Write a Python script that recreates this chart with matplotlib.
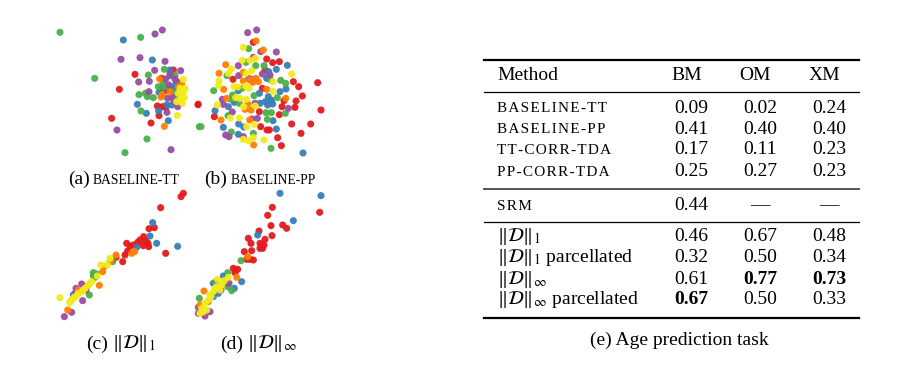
import numpy as np
import matplotlib
matplotlib.use("Agg")
import matplotlib.pyplot as plt

plt.rcParams["font.family"] = ["Liberation Serif", "DejaVu Serif"]
plt.rcParams["mathtext.fontset"] = "stix"

# embedding points (arbitrary units, y grows downward)
a_red = [(285, 163), (400, 150), (238, 208), (352, 258), (377, 262), (357, 287), (474, 254), (215, 295),
         (333, 309), (365, 175), (377, 213), (367, 260), (410, 185)]
a_blue = [(250, 60), (337, 120), (390, 150), (292, 253), (319, 280), (356, 273), (385, 302), (390, 167),
          (408, 190), (365, 205), (393, 202), (380, 255), (395, 255), (357, 217), (403, 205)]
a_green = [(60, 37), (302, 52), (164, 175), (325, 165), (373, 148), (405, 165), (297, 224), (316, 220),
           (322, 230), (303, 273), (478, 320), (321, 357), (255, 398), (370, 188), (355, 200), (415, 230),
           (340, 233), (375, 200), (400, 218)]
a_purple = [(345, 42), (367, 30), (243, 118), (300, 113), (375, 124), (344, 151), (390, 160), (422, 152),
            (296, 186), (328, 184), (381, 277), (231, 330), (393, 389), (377, 177), (405, 177), (383, 235),
            (397, 233), (403, 245), (413, 260), (327, 215), (387, 195)]
a_orange = [(373, 319), (359, 177), (415, 200), (390, 215), (363, 231), (367, 223), (425, 193)]
a_yellow = [(430, 178), (412, 286), (420, 205), (430, 215), (423, 225), (433, 233), (420, 240), (427, 250),
            (415, 220), (435, 205), (425, 240), (410, 245)]

b_red = [(190, 67), (230, 117), (248, 128), (268, 125), (225, 150), (129, 178), (25, 253), (217, 205),
         (310, 185), (326, 200), (383, 188), (282, 242), (318, 243), (337, 228), (276, 260), (315, 262),
         (393, 270), (73, 290), (208, 275), (268, 284), (305, 312), (362, 312), (212, 320), (231, 330),
         (238, 330), (263, 353), (333, 340), (274, 377)]
b_blue = [(292, 136), (236, 155), (259, 148), (230, 175), (145, 212), (270, 215), (288, 207), (208, 220),
          (235, 230), (244, 240), (115, 260), (133, 247), (210, 250), (226, 245), (233, 255), (248, 252),
          (75, 272), (249, 302), (100, 322), (146, 312), (161, 321), (259, 327), (145, 343), (339, 399)]
b_green = [(176, 86), (168, 127), (197, 137), (222, 137), (111, 167), (242, 180), (71, 212), (156, 205),
           (272, 181), (287, 190), (128, 225), (123, 238), (192, 227), (262, 233), (148, 250), (114, 287),
           (228, 278), (244, 278), (286, 280), (232, 298), (33, 320), (124, 336), (190, 340), (243, 385)]
b_purple = [(173, 38), (200, 30), (212, 95), (259, 96), (190, 112), (145, 137), (217, 162), (146, 167),
            (177, 175), (191, 178), (240, 165), (97, 238), (100, 253), (195, 250), (295, 265), (127, 276),
            (186, 297), (202, 295), (107, 345), (117, 350), (160, 350)]
b_orange = [(198, 63), (220, 90), (107, 134), (160, 157), (87, 160), (160, 183), (180, 180), (205, 185),
            (198, 175), (101, 208), (188, 187), (230, 208), (287, 235), (110, 235), (173, 252), (93, 300),
            (165, 268), (183, 270), (179, 300), (191, 375)]
b_yellow = [(160, 82), (157, 121), (180, 121), (196, 115), (124, 147), (168, 160), (185, 152), (115, 160),
            (305, 162), (249, 185), (87, 183), (86, 196), (132, 200), (143, 201), (166, 198), (177, 205),
            (249, 214), (137, 233), (150, 235), (169, 238), (82, 255), (161, 260), (196, 258), (121, 294),
            (148, 294), (170, 320), (193, 313), (160, 358), (175, 362), (190, 353), (222, 360)]

c_red = [(430, 40), (423, 50), (362, 83), (327, 146), (343, 143), (311, 170), (318, 183), (324, 190),
         (293, 187), (260, 190), (270, 198), (310, 197), (326, 200), (377, 220), (263, 213), (255, 225),
         (248, 245), (228, 232), (280, 195), (300, 180)]
c_blue = [(338, 128), (330, 168), (350, 190), (413, 199), (290, 202), (100, 345)]
c_green = [(218, 245), (160, 278), (170, 282), (160, 288), (165, 292), (148, 345)]
c_purple = [(125, 312), (108, 325), (128, 362), (95, 397), (73, 410), (138, 330), (105, 340)]
c_orange = [(284, 215), (275, 220), (228, 225), (210, 245), (178, 316), (83, 390), (192, 260), (188, 275),
            (140, 320), (115, 330)]
c_yellow = [(60, 353), (90, 368), (210, 235), (202, 255), (182, 255), (172, 288), (155, 305), (150, 310),
            (145, 315), (135, 325), (125, 335), (115, 340), (105, 350), (95, 360), (90, 365), (130, 330),
            (110, 348), (100, 355)]

d_red = [(419, 97), (277, 82), (263, 106), (273, 137), (308, 135), (320, 145), (276, 167), (237, 153),
         (255, 178), (205, 175), (213, 190), (240, 190), (252, 195), (240, 205), (248, 205), (215, 212),
         (193, 215), (210, 238), (220, 240), (200, 238), (160, 265), (173, 268), (165, 278)]
d_blue = [(300, 40), (423, 47), (340, 122), (233, 165), (185, 305), (163, 325), (130, 288), (100, 310),
          (115, 340), (100, 350)]
d_green = [(183, 242), (143, 278), (137, 310), (108, 305), (58, 355), (155, 332), (143, 320)]
d_purple = [(147, 310), (123, 330), (55, 382), (55, 400), (75, 408), (90, 395)]
d_orange = [(203, 230), (170, 292), (72, 333), (60, 375), (85, 365)]
d_yellow = [(145, 292), (133, 302), (125, 315), (113, 298), (110, 320), (120, 330), (100, 335), (93, 350),
            (85, 360), (75, 370), (65, 385), (60, 400), (80, 390), (105, 325), (90, 345), (70, 395)]

# table data
methods = ["BASELINE-TT", "BASELINE-PP", "TT-CORR-TDA", "PP-CORR-TDA", "SRM",
           r"$\|\mathcal{D}\|_1$", r"$\|\mathcal{D}\|_1$ parcellated",
           r"$\|\mathcal{D}\|_\infty$", r"$\|\mathcal{D}\|_\infty$ parcellated"]
smallcaps = [True, True, True, True, True, False, False, False, False]
bm = ["0.09", "0.41", "0.17", "0.25", "0.44", "0.46", "0.32", "0.61", "0.67"]
om = ["0.02", "0.40", "0.11", "0.27", "\u2014", "0.67", "0.50", "0.77", "0.50"]
xm = ["0.24", "0.40", "0.23", "0.23", "\u2014", "0.48", "0.34", "0.73", "0.33"]
bold = [(8, 0), (7, 1), (7, 2)]
columns = ["BM", "OM", "XM"]

colors = {"red": "#e41a1c", "blue": "#377eb8", "green": "#4daf4a",
          "purple": "#984ea3", "orange": "#ff7f00", "yellow": "#f2ea1d"}

W, H = 902, 370
fig = plt.figure(figsize=(W / 100, H / 100), dpi=100)


def spaced(s):
    # small caps in the paper are letter-spaced
    return "\u200a".join(s)


def panel(px, py, pw, ph, groups):
    ax = fig.add_axes([px / W, 1 - (py + ph) / H, pw / W, ph / H])
    for name, pts in groups:
        pts = np.array(pts)
        ax.scatter(pts[:, 0], pts[:, 1], s=26, color=colors[name], edgecolors="none", alpha=0.95)
    ax.set_xlim(0, pw * 3)
    ax.set_ylim(ph * 3, 0)
    ax.axis("off")
    ax.patch.set_alpha(0)
    return ax


panel(40, 20, 160, 150, [("red", a_red), ("blue", a_blue), ("green", a_green),
                         ("purple", a_purple), ("orange", a_orange), ("yellow", a_yellow)])
panel(190, 20, 160, 150, [("red", b_red), ("blue", b_blue), ("green", b_green),
                          ("purple", b_purple), ("orange", b_orange), ("yellow", b_yellow)])
panel(40, 180, 160, 170, [("red", c_red), ("blue", c_blue), ("green", c_green),
                          ("purple", c_purple), ("orange", c_orange), ("yellow", c_yellow)])
panel(180, 180, 170, 170, [("red", d_red), ("blue", d_blue), ("green", d_green),
                           ("purple", d_purple), ("orange", d_orange), ("yellow", d_yellow)])

# overlay axes in pixel units for captions and the table
ov = fig.add_axes([0, 0, 1, 1])
ov.set_xlim(0, W)
ov.set_ylim(H, 0)
ov.axis("off")
ov.patch.set_alpha(0)

# sub-figure captions
ov.text(90, 179, "(a)", fontsize=14, ha="right", va="center")
ov.text(93, 180, "BASELINE-TT", fontsize=9.8, ha="left", va="center")
ov.text(227, 179, "(b)", fontsize=14, ha="right", va="center")
ov.text(231, 180, "BASELINE-PP", fontsize=9.8, ha="left", va="center")
ov.text(108, 344, "(c)", fontsize=14, ha="right", va="center")
ov.text(112, 344, r"$\|\mathcal{D}\|_1$", fontsize=14, ha="left", va="center")
ov.text(243, 344, "(d)", fontsize=14, ha="right", va="center")
ov.text(247, 344, r"$\|\mathcal{D}\|_\infty$", fontsize=14, ha="left", va="center")

# table
x0, x1 = 484, 859
ov.plot([x0, x1], [60, 60], color="black", lw=1.6)
ov.plot([x0, x1], [92.3, 92.3], color="black", lw=0.9)
ov.plot([x0, x1], [188.5, 188.5], color="#555555", lw=1.4)
ov.plot([x0, x1], [221.7, 221.7], color="black", lw=0.9)
ov.plot([x0, x1], [317.7, 317.7], color="black", lw=1.6)

head_x = [687, 755, 824]
num_x = [691, 760, 829]
ov.text(497, 76, "Method", fontsize=14, ha="left", va="center")
for cx, col in zip(head_x, columns):
    ov.text(cx, 76, col, fontsize=14, ha="center", va="center")

row_y = [108.3, 129, 150, 171.7, 206, 236.7, 257.7, 279.3, 300]
for i, (name, y) in enumerate(zip(methods, row_y)):
    if smallcaps[i]:
        ov.text(497, y + 0.5, spaced(name), fontsize=11, ha="left", va="center")
    else:
        ov.text(497, y, name, fontsize=14, ha="left", va="center")
    for j, vals in enumerate([bm, om, xm]):
        w = "bold" if (i, j) in bold else "normal"
        ov.text(num_x[j], y, vals[i], fontsize=14, ha="center", va="center", fontweight=w)

ov.text(679, 340, "(e) Age prediction task", fontsize=14, ha="center", va="center")

fig.savefig("out.png", dpi=100, facecolor="white")
